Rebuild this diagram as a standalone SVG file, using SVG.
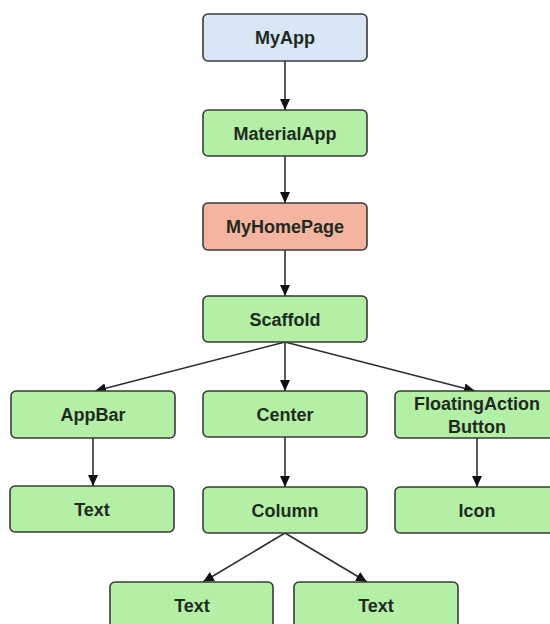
<svg xmlns="http://www.w3.org/2000/svg" width="550" height="624" viewBox="0 0 550 624">
<style>
.box{stroke:#3a3a3a;stroke-width:1.6}
.g{fill:#b3f0a5}
.b{fill:#d8e6f6}
.r{fill:#f5b49f}
.t{font-family:"Liberation Sans",Arial,sans-serif;font-size:18px;font-weight:bold;fill:#1f2a1f;text-anchor:middle}
.c{stroke:#2e2e2e;stroke-width:1.6;fill:none;marker-end:url(#ah)}
</style>
<defs>
<marker id="ah" markerUnits="userSpaceOnUse" markerWidth="11" markerHeight="10" refX="11" refY="5" orient="auto">
<path d="M0,0 L11,5 L0,10 z" fill="#111"/>
</marker>
</defs>
<rect width="550" height="624" fill="#fff"/>
<g id="connectors">
<line class="c" x1="285" y1="61" x2="285" y2="110"/>
<line class="c" x1="285" y1="156" x2="285" y2="203"/>
<line class="c" x1="285" y1="250" x2="285" y2="296"/>
<line class="c" x1="285" y1="342" x2="95" y2="391"/>
<line class="c" x1="285" y1="342" x2="285" y2="391"/>
<line class="c" x1="285" y1="342" x2="475" y2="391"/>
<line class="c" x1="93" y1="438" x2="93" y2="486"/>
<line class="c" x1="285" y1="437" x2="285" y2="487"/>
<line class="c" x1="477" y1="438" x2="477" y2="487"/>
<line class="c" x1="285" y1="533" x2="203" y2="582"/>
<line class="c" x1="285" y1="533" x2="367" y2="582"/>
</g>
<g id="myapp"><rect class="box b" x="203" y="14" width="164" height="47" rx="5"/><text class="t" x="285" y="44">MyApp</text></g>
<g id="materialapp"><rect class="box g" x="203" y="110" width="164" height="46" rx="5"/><text class="t" x="285" y="140">MaterialApp</text></g>
<g id="myhomepage"><rect class="box r" x="203" y="203" width="164" height="47" rx="5"/><text class="t" x="285" y="233">MyHomePage</text></g>
<g id="scaffold"><rect class="box g" x="203" y="296" width="164" height="46" rx="5"/><text class="t" x="285" y="326">Scaffold</text></g>
<g id="appbar"><rect class="box g" x="11" y="391" width="164" height="47" rx="5"/><text class="t" x="93" y="421">AppBar</text></g>
<g id="center"><rect class="box g" x="203" y="391" width="164" height="46" rx="5"/><text class="t" x="285" y="421">Center</text></g>
<g id="fab"><rect class="box g" x="395" y="391" width="164" height="47" rx="5"/><text class="t" x="477" y="409.5">FloatingAction</text><text class="t" x="477" y="432.5">Button</text></g>
<g id="text1"><rect class="box g" x="10" y="486" width="164" height="46" rx="5"/><text class="t" x="92" y="516">Text</text></g>
<g id="column"><rect class="box g" x="203" y="487" width="164" height="46" rx="5"/><text class="t" x="285" y="517">Column</text></g>
<g id="icon"><rect class="box g" x="395" y="487" width="164" height="46" rx="5"/><text class="t" x="477" y="517">Icon</text></g>
<g id="text2"><rect class="box g" x="110" y="582" width="163" height="47" rx="5"/><text class="t" x="192" y="612">Text</text></g>
<g id="text3"><rect class="box g" x="294" y="582" width="164" height="47" rx="5"/><text class="t" x="376" y="612">Text</text></g>
</svg>
